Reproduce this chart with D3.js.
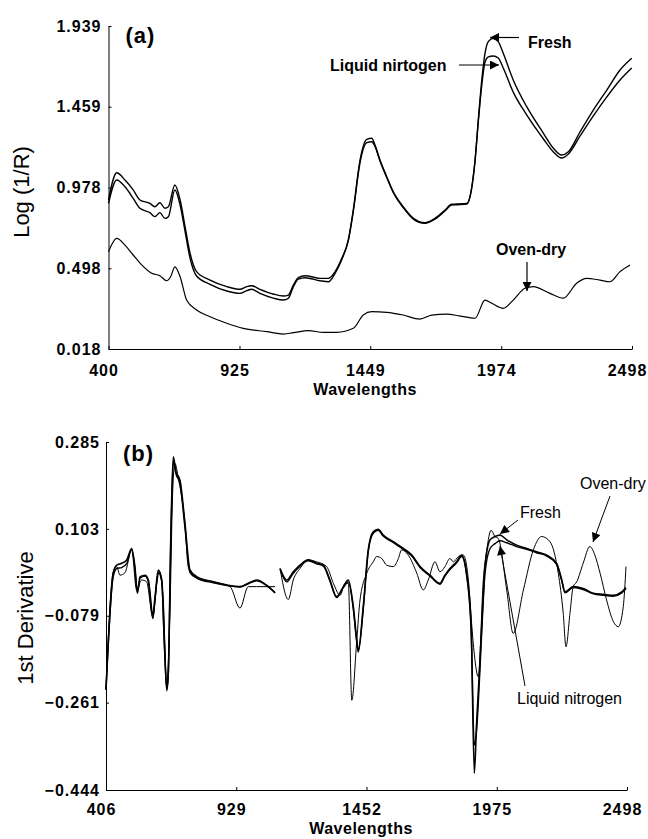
<!DOCTYPE html>
<html>
<head>
<meta charset="utf-8">
<script src="https://cdn.jsdelivr.net/npm/d3@7"></script>
<style>
  body { margin: 0; background: #fff; }
  .tick text { font-family: "Liberation Sans", Arial, sans-serif; font-weight: bold; font-size: 16px; letter-spacing: 1px; fill: #000; }
  .axis path, .axis line { stroke: #000; stroke-width: 1; }
  .ylabel { font-family: "Liberation Sans", Arial, sans-serif; font-size: 22px; }
  .xlabel { font-family: "Liberation Sans", Arial, sans-serif; font-size: 16px; font-weight: bold; letter-spacing: 0.5px; }
  .panel { font-family: "Liberation Sans", Arial, sans-serif; font-size: 22px; font-weight: bold; letter-spacing: 1px; }
  .noteA { font-family: "Liberation Sans", Arial, sans-serif; font-size: 16px; font-weight: bold; }
  .noteB { font-family: "Liberation Sans", Arial, sans-serif; font-size: 16px; }
</style>
</head>
<body>
<div id="chart"></div>
<script>
// (a) Log(1/R) spectra  [wavelength, value]
var freshA = [[400,.904],[433,1.066],[466,1.023],[499,.964],[526,.904],[566,.884],[586,.864],[606,.888],[626,.855],[640,.864],[666,.993],[687,.904],[707,.745],[727,.587],[753,.478],[807,.428],[874,.389],[927,.373],[954,.389],[974,.394],[1007,.373],[1060,.345],[1101,.333],[1121,.339],[1141,.399],[1161,.442],[1188,.454],[1248,.438],[1281,.438],[1308,.478],[1335,.557],[1361,.666],[1381,.845],[1408,1.142],[1435,1.265],[1455,1.271],[1468,1.231],[1488,1.142],[1515,1.043],[1541,.954],[1581,.864],[1622,.795],[1668,.769],[1708,.795],[1749,.845],[1775,.879],[1795,.880],[1836,.884],[1856,.983],[1869,1.142],[1882,1.380],[1896,1.618],[1909,1.777],[1922,1.846],[1942,1.866],[1962,1.846],[1982,1.777],[2022,1.618],[2076,1.459],[2143,1.301],[2183,1.212],[2216,1.172],[2243,1.191],[2290,1.310],[2343,1.439],[2397,1.558],[2450,1.677],[2497,1.747]];
var nitrogenA = [[400,.884],[433,1.023],[466,.983],[499,.914],[526,.855],[566,.829],[586,.805],[606,.829],[626,.795],[640,.805],[666,.964],[687,.874],[707,.716],[727,.557],[753,.452],[807,.403],[874,.363],[927,.349],[954,.365],[974,.373],[1007,.349],[1060,.321],[1101,.309],[1121,.320],[1141,.389],[1161,.433],[1188,.442],[1248,.424],[1281,.418],[1308,.468],[1335,.551],[1361,.662],[1381,.835],[1408,1.126],[1435,1.245],[1455,1.251],[1468,1.223],[1488,1.136],[1515,1.038],[1541,.949],[1581,.859],[1622,.790],[1668,.765],[1708,.790],[1749,.840],[1775,.874],[1795,.876],[1836,.880],[1856,.978],[1869,1.136],[1882,1.368],[1896,1.588],[1909,1.725],[1922,1.755],[1942,1.761],[1962,1.749],[1982,1.689],[2022,1.546],[2076,1.410],[2143,1.267],[2183,1.190],[2216,1.154],[2243,1.178],[2290,1.285],[2343,1.404],[2397,1.517],[2450,1.618],[2497,1.689]];
var ovenA = [[400,.597],[433,.676],[466,.636],[499,.577],[533,.518],[573,.468],[606,.454],[633,.424],[649,.448],[666,.507],[687,.448],[713,.309],[753,.250],[807,.210],[874,.171],[940,.141],[1034,.121],[1101,.107],[1141,.115],[1201,.127],[1261,.117],[1315,.117],[1381,.141],[1421,.220],[1455,.240],[1515,.236],[1581,.220],[1648,.196],[1695,.220],[1755,.226],[1809,.214],[1869,.201],[1909,.309],[1936,.290],[1982,.260],[2022,.309],[2069,.379],[2102,.389],[2169,.349],[2223,.320],[2276,.409],[2316,.438],[2369,.428],[2410,.418],[2450,.478],[2490,.518]];

// (b) 1st derivative spectra  [wavelength, value], null = gap
var freshB = [[406,-.234],[435,.010],[449,.027],[469,.031],[489,.038],[509,.062],[522,.024],[532,-.029],[543,.003],[563,.006],[576,-.004],[594,-.077],[603,-.039],[616,.017],[630,-.004],[640,-.130],[650,-.231],[656,-.200],[666,.080],[676,.254],[687,.223],[703,.205],[723,.115],[743,.017],[770,.003],[837,-.008],[897,-.015],[944,-.018],[977,-.011],[1011,-.004],[1051,-.015],[1085,-.031],null,[1105,.020],[1132,-.004],[1158,.013],[1185,.027],[1218,.038],[1252,.031],[1279,.027],[1305,-.004],[1332,-.039],[1359,-.018],[1379,-.004],[1399,-.060],[1413,-.130],[1419,-.151],[1439,-.060],[1459,.059],[1479,.097],[1499,.102],[1519,.090],[1560,.076],[1600,.062],[1634,.048],[1667,.024],[1707,.006],[1747,-.011],[1767,.006],[1787,.020],[1814,.034],[1834,.048],[1854,.010],[1872,-.095],[1885,-.409],[1894,-.304],[1905,-.200],[1915,-.095],[1928,.024],[1948,.080],[1968,.087],[1988,.090],[2015,.080],[2055,.069],[2095,.062],[2135,.055],[2176,.048],[2216,.030],[2236,-.004],[2249,-.029],[2282,-.018],[2322,-.022],[2363,-.032],[2403,-.034],[2443,-.036],[2477,-.029],[2494,-.020]];
var nitrogenB = [[406,-.234],[435,.003],[449,.020],[469,.022],[489,.030],[509,.060],[522,.020],[532,-.032],[543,.000],[563,.004],[576,-.008],[594,-.085],[603,-.045],[616,.012],[630,-.008],[640,-.135],[650,-.236],[656,-.205],[666,.070],[676,.245],[687,.218],[703,.198],[723,.105],[743,.012],[770,.000],[837,-.010],[897,-.016],[944,-.019],[977,-.012],[1011,-.006],[1051,-.016],[1085,-.031],null,[1105,.018],[1132,-.008],[1158,.010],[1185,.025],[1218,.036],[1252,.030],[1279,.025],[1305,-.006],[1332,-.041],[1359,-.020],[1379,-.008],[1399,-.065],[1413,-.135],[1419,-.155],[1439,-.065],[1459,.055],[1479,.094],[1499,.100],[1519,.088],[1560,.074],[1600,.060],[1634,.046],[1667,.022],[1707,.004],[1747,-.013],[1767,.004],[1787,.018],[1814,.032],[1834,.045],[1854,.005],[1872,-.110],[1885,-.350],[1894,-.320],[1905,-.220],[1915,-.110],[1928,.010],[1948,.062],[1968,.072],[1988,.078],[2015,.074],[2055,.066],[2095,.060],[2135,.053],[2176,.046],[2216,.028],[2236,-.006],[2249,-.031],[2282,-.020],[2322,-.024],[2363,-.033],[2403,-.036],[2443,-.038],[2477,-.031],[2494,-.022]];
var ovenB = [[406,-.234],[435,.013],[449,.024],[462,.006],[482,.011],[509,.059],[529,-.025],[549,-.004],[569,-.008],[594,-.081],[610,-.011],[620,.013],[636,-.046],[650,-.228],[663,-.063],[674,.184],[683,.240],[696,.210],[710,.170],[723,.115],[736,.024],[763,.003],[837,-.008],[904,-.018],[944,-.063],[977,-.018],[1011,-.018],[1085,-.018],null,[1105,.020],[1138,-.045],[1158,-.004],[1185,.020],[1218,.038],[1252,.034],[1292,.024],[1319,-.011],[1346,-.036],[1366,-.011],[1379,-.011],[1393,-.256],[1413,-.130],[1426,-.046],[1453,.010],[1479,.034],[1493,.045],[1513,.041],[1533,.027],[1560,.024],[1580,.041],[1593,.059],[1620,.048],[1654,.010],[1680,-.025],[1700,-.004],[1727,.034],[1747,.013],[1767,.024],[1787,.041],[1801,.034],[1821,.045],[1841,.048],[1861,-.004],[1874,-.095],[1885,-.160],[1901,-.207],[1921,-.004],[1935,.059],[1952,.100],[1968,.087],[1981,.083],[2015,-.025],[2041,-.116],[2082,-.025],[2122,.059],[2155,.087],[2189,.076],[2222,.010],[2242,-.074],[2253,-.144],[2269,-.074],[2282,-.018],[2296,-.008],[2322,.031],[2349,.066],[2369,.048],[2390,.010],[2416,-.046],[2443,-.091],[2463,-.102],[2483,-.060],[2494,.024]];

var xTicksA = [400, 925, 1449, 1974, 2498];
var yTicksA = [0.018, 0.498, 0.978, 1.459, 1.939];
var xTicksB = [406, 929, 1452, 1975, 2498];
var yTicksB = [-0.444, -0.261, -0.079, 0.103, 0.285];

const svg = d3.select("#chart")
    .append("svg")
    .attr("width", 648)
    .attr("height", 839);

svg.append("rect").attr("width", 648).attr("height", 839).attr("fill", "#fff");

// arrow head
svg.append("defs").append("marker")
    .attr("id", "head")
    .attr("viewBox", "0 0 10 10")
    .attr("refX", 10).attr("refY", 5)
    .attr("markerWidth", 10).attr("markerHeight", 9)
    .attr("markerUnits", "userSpaceOnUse")
    .attr("orient", "auto")
    .append("path")
    .attr("d", "M0,0 L10,5 L0,10 Z")
    .attr("fill", "#000");

function drawPanel(opt) {
    const xScale = d3.scaleLinear()
        .domain(d3.extent(opt.xTicks))
        .range([opt.left, opt.right]);
    const yScale = d3.scaleLinear()
        .domain(d3.extent(opt.yTicks))
        .range([opt.bottom, opt.top]);

    const xAxis = d3.axisBottom(xScale).tickValues(opt.xTicks)
        .tickFormat(d3.format("d")).tickSizeInner(-3).tickSizeOuter(0).tickPadding(opt.xPad);
    const yAxis = d3.axisLeft(yScale).tickValues(opt.yTicks)
        .tickFormat(d3.format(".3f")).tickSizeInner(-3).tickSizeOuter(0).tickPadding(opt.yPad);

    svg.append("g")
        .attr("class", "axis")
        .attr("transform", `translate(0, ${opt.bottom})`)
        .call(xAxis)
        .selectAll("text").attr("dx", -5);

    svg.append("g")
        .attr("class", "axis")
        .attr("transform", `translate(${opt.left}, 0)`)
        .call(yAxis);

    svg.selectAll(".axis text").attr("font-family", null);

    const line = d3.line()
        .defined(d => d !== null)
        .curve(d3.curveMonotoneX)
        .x(d => xScale(d[0]))
        .y(d => yScale(d[1]));

    opt.series.forEach(s => {
        svg.append("path")
            .datum(s.data)
            .attr("fill", "none")
            .attr("stroke", "#000")
            .attr("stroke-width", s.width)
            .attr("stroke-linejoin", "round")
            .attr("d", line);
    });

    // axis labels
    svg.append("text")
        .attr("class", "xlabel")
        .attr("x", opt.xLabelX)
        .attr("y", opt.xLabelY)
        .attr("text-anchor", "middle")
        .text("Wavelengths");

    svg.append("text")
        .attr("class", "ylabel")
        .attr("transform", `translate(${opt.yLabelX}, ${opt.yLabelY}) rotate(-90)`)
        .attr("text-anchor", "middle")
        .text(opt.yLabel);

    svg.append("text")
        .attr("class", "panel")
        .attr("x", opt.left + 17)
        .attr("y", opt.panelY)
        .text(opt.panel);

    return {x: xScale, y: yScale};
}

function note(cls, x, y, label) {
    svg.append("text").attr("class", cls).attr("x", x).attr("y", y).text(label);
}

function arrow(x1, y1, x2, y2, w) {
    svg.append("line")
        .attr("x1", x1).attr("y1", y1).attr("x2", x2).attr("y2", y2)
        .attr("stroke", "#000").attr("stroke-width", w)
        .attr("marker-end", "url(#head)");
}

drawPanel({
    xTicks: xTicksA, yTicks: yTicksA,
    left: 108.5, right: 632, top: 26, bottom: 349, xPad: 16, yPad: 7,
    series: [
        {data: freshA, width: 1.4},
        {data: nitrogenA, width: 1.4},
        {data: ovenA, width: 1.2}
    ],
    xLabelX: 365, xLabelY: 395,
    yLabel: "Log (1/R)", yLabelX: 29, yLabelY: 192,
    panel: "(a)", panelY: 43
});

drawPanel({
    xTicks: xTicksB, yTicks: yTicksB,
    left: 106, right: 627, top: 442, bottom: 790, xPad: 14, yPad: 6,
    series: [
        {data: ovenB, width: 1},
        {data: nitrogenB, width: 1.4},
        {data: freshB, width: 1.6}
    ],
    xLabelX: 361, xLabelY: 834,
    yLabel: "1st Derivative", yLabelX: 33, yLabelY: 618,
    panel: "(b)", panelY: 461
});

// annotations (a)
note("noteA", 528, 48, "Fresh");
arrow(519, 37.5, 490, 37.5, 1.2);
note("noteA", 330, 71, "Liquid nirtogen");
arrow(459, 65, 499, 65, 1.2);
note("noteA", 496, 255, "Oven-dry");
arrow(527, 262, 527, 291, 1.2);

// annotations (b)
note("noteB", 520, 518, "Fresh");
arrow(518, 520, 500, 534, 1);
note("noteB", 580, 489, "Oven-dry");
arrow(610, 496, 593, 542, 1);
note("noteB", 517, 704, "Liquid nitrogen");
arrow(525, 686, 500, 546, 1);
</script>
</body>
</html>
